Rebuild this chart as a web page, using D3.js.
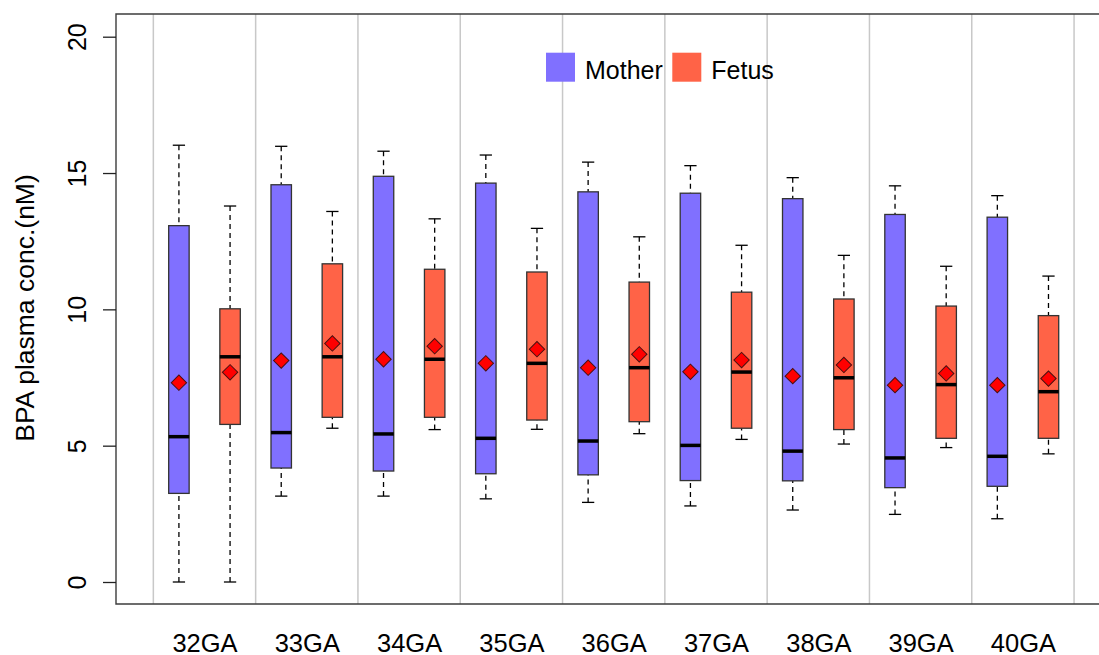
<!DOCTYPE html>
<html>
<head>
<meta charset="utf-8">
<script src="https://cdn.jsdelivr.net/npm/d3@7"></script>
<style>
  body { margin: 0; background: #fff; }
  text { font-family: "Liberation Sans", Arial, sans-serif; fill: #000; }
</style>
</head>
<body>
<script>
// groups (gestational age)
var groups = ["32GA", "33GA", "34GA", "35GA", "36GA", "37GA", "38GA", "39GA", "40GA"];
var seriesNames = ["Mother", "Fetus"];
var seriesColors = ["#8070ff", "#ff6347"];
var yTicks = [0, 5, 10, 15, 20];

// Mother: whisker low, Q1, median, Q3, whisker high, mean
var motherLow    = [0.00, 3.15, 3.15, 3.05, 2.92, 2.79, 2.64, 2.48, 2.32];
var motherQ1     = [3.25, 4.18, 4.07, 3.97, 3.93, 3.72, 3.71, 3.46, 3.51];
var motherMedian = [5.33, 5.48, 5.43, 5.27, 5.17, 5.01, 4.80, 4.55, 4.61];
var motherQ3     = [13.07, 14.57, 14.88, 14.63, 14.31, 14.26, 14.06, 13.48, 13.38];
var motherHigh   = [16.02, 15.98, 15.80, 15.66, 15.40, 15.27, 14.83, 14.53, 14.17];
var motherMean   = [7.31, 8.12, 8.17, 8.02, 7.86, 7.71, 7.55, 7.22, 7.22];

// Fetus
var fetusLow    = [0.00, 5.64, 5.59, 5.60, 5.44, 5.23, 5.06, 4.93, 4.70];
var fetusQ1     = [5.78, 6.04, 6.04, 5.94, 5.88, 5.64, 5.59, 5.27, 5.27];
var fetusMedian = [8.26, 8.26, 8.17, 8.02, 7.86, 7.70, 7.49, 7.24, 6.98];
var fetusQ3     = [10.02, 11.67, 11.47, 11.37, 11.00, 10.63, 10.38, 10.12, 9.77];
var fetusHigh   = [13.79, 13.59, 13.32, 12.97, 12.66, 12.35, 11.98, 11.58, 11.22];
var fetusMean   = [7.69, 8.75, 8.65, 8.54, 8.35, 8.14, 7.96, 7.65, 7.46];

var W = 1099, H = 655;
var svg = d3.select("body").append("svg")
    .attr("width", W)
    .attr("height", H);

// box positions 1..18, frame like R's usr range
var x = d3.scaleLinear().domain([-0.23, 19.23]).range([116, 1111.4]);
var y = d3.scaleLinear().domain([0, 20]).range([582, 36.7]);
var plotTop = 14, plotBottom = 604, plotLeft = 116;

// build box records
var boxes = [];
groups.forEach(function (g, i) {
    boxes.push({ pos: 2 * i + 1, s: 0, low: motherLow[i], q1: motherQ1[i], med: motherMedian[i], q3: motherQ3[i], high: motherHigh[i], mean: motherMean[i] });
    boxes.push({ pos: 2 * i + 2, s: 1, low: fetusLow[i], q1: fetusQ1[i], med: fetusMedian[i], q3: fetusQ3[i], high: fetusHigh[i], mean: fetusMean[i] });
});

// vertical separators
var seps = d3.range(0, groups.length + 1).map(function (k) { return 0.5 + 2 * k; });
svg.append("g").selectAll("line")
    .data(seps)
    .enter().append("line")
    .attr("x1", function (d) { return x(d); })
    .attr("x2", function (d) { return x(d); })
    .attr("y1", plotTop)
    .attr("y2", plotBottom)
    .attr("stroke", "#c8c8c8")
    .attr("stroke-width", 1.5);

// frame (left, top, bottom) - right side is cut off by the picture
svg.append("path")
    .attr("d", "M" + W + "," + plotTop + "H" + plotLeft + "V" + plotBottom + "H" + W)
    .attr("fill", "none")
    .attr("stroke", "#3c3c3c")
    .attr("stroke-width", 1.4);

// y axis
var yAxis = svg.append("g")
    .attr("transform", "translate(" + plotLeft + ",0)")
    .call(d3.axisLeft(y).tickValues(yTicks).tickSize(13).tickFormat(d3.format("d")));
yAxis.select(".domain").remove();
yAxis.selectAll(".tick line").attr("stroke", "#222").attr("stroke-width", 1.3);
yAxis.selectAll(".tick text")
    .attr("x", null).attr("dy", null)
    .attr("transform", "translate(-30,0) rotate(-90)")
    .attr("text-anchor", "middle")
    .style("font-size", "25px")
    .style("font-family", "'Liberation Sans', Arial, sans-serif")
    .attr("fill", "#000");

svg.append("text")
    .attr("transform", "translate(34,308) rotate(-90)")
    .attr("text-anchor", "middle")
    .style("font-size", "26.5px")
    .text("BPA plasma conc.(nM)");

// x labels
var xAxis = svg.append("g")
    .attr("transform", "translate(0," + plotBottom + ")")
    .call(d3.axisBottom(x)
        .tickValues(groups.map(function (g, i) { return 2 * i + 1.5; }))
        .tickFormat(function (d, i) { return groups[i]; })
        .tickSize(0));
xAxis.select(".domain").remove();
xAxis.selectAll(".tick text")
    .attr("y", 47.5).attr("dy", null)
    .style("font-size", "25.5px")
    .style("font-family", "'Liberation Sans', Arial, sans-serif")
    .attr("fill", "#000");

// boxes
var bw = 0.4, cap = 0.24;
var bg = svg.append("g").selectAll("g")
    .data(boxes)
    .enter().append("g");

// whiskers
bg.append("line")
    .attr("x1", function (d) { return x(d.pos); })
    .attr("x2", function (d) { return x(d.pos); })
    .attr("y1", function (d) { return y(d.high); })
    .attr("y2", function (d) { return y(d.q3); })
    .attr("stroke", "#000").attr("stroke-width", 1.3)
    .attr("stroke-dasharray", "5,4");
bg.append("line")
    .attr("x1", function (d) { return x(d.pos); })
    .attr("x2", function (d) { return x(d.pos); })
    .attr("y1", function (d) { return y(d.low); })
    .attr("y2", function (d) { return y(d.q1); })
    .attr("stroke", "#000").attr("stroke-width", 1.3)
    .attr("stroke-dasharray", "5,4");
["high", "low"].forEach(function (k) {
    bg.append("line")
        .attr("x1", function (d) { return x(d.pos - cap / 2); })
        .attr("x2", function (d) { return x(d.pos + cap / 2); })
        .attr("y1", function (d) { return y(d[k]); })
        .attr("y2", function (d) { return y(d[k]); })
        .attr("stroke", "#000").attr("stroke-width", 1.3);
});

bg.append("rect")
    .attr("x", function (d) { return x(d.pos - bw / 2); })
    .attr("width", function (d) { return x(d.pos + bw / 2) - x(d.pos - bw / 2); })
    .attr("y", function (d) { return y(d.q3); })
    .attr("height", function (d) { return y(d.q1) - y(d.q3); })
    .attr("fill", function (d) { return seriesColors[d.s]; })
    .attr("stroke", "#333")
    .attr("stroke-width", 1.3);

bg.append("line")
    .attr("x1", function (d) { return x(d.pos - bw / 2); })
    .attr("x2", function (d) { return x(d.pos + bw / 2); })
    .attr("y1", function (d) { return y(d.med); })
    .attr("y2", function (d) { return y(d.med); })
    .attr("stroke", "#000").attr("stroke-width", 3.5);

// means
var diamond = d3.symbol().type(d3.symbolSquare).size(118);
bg.append("path")
    .attr("d", diamond)
    .attr("transform", function (d) { return "translate(" + x(d.pos) + "," + y(d.mean) + ") rotate(45)"; })
    .attr("fill", "#ff0000")
    .attr("stroke", "#4a1010")
    .attr("stroke-width", 1);

// legend
var legend = svg.append("g").selectAll("g")
    .data(seriesNames)
    .enter().append("g")
    .attr("transform", function (d, i) { return "translate(" + [546, 672.3][i] + ",52.7)"; });
legend.append("rect")
    .attr("width", 29).attr("height", 29)
    .attr("fill", function (d, i) { return seriesColors[i]; });
legend.append("text")
    .attr("x", 39).attr("y", 26.6)
    .style("font-size", "25px")
    .text(function (d) { return d; });
</script>
</body>
</html>
